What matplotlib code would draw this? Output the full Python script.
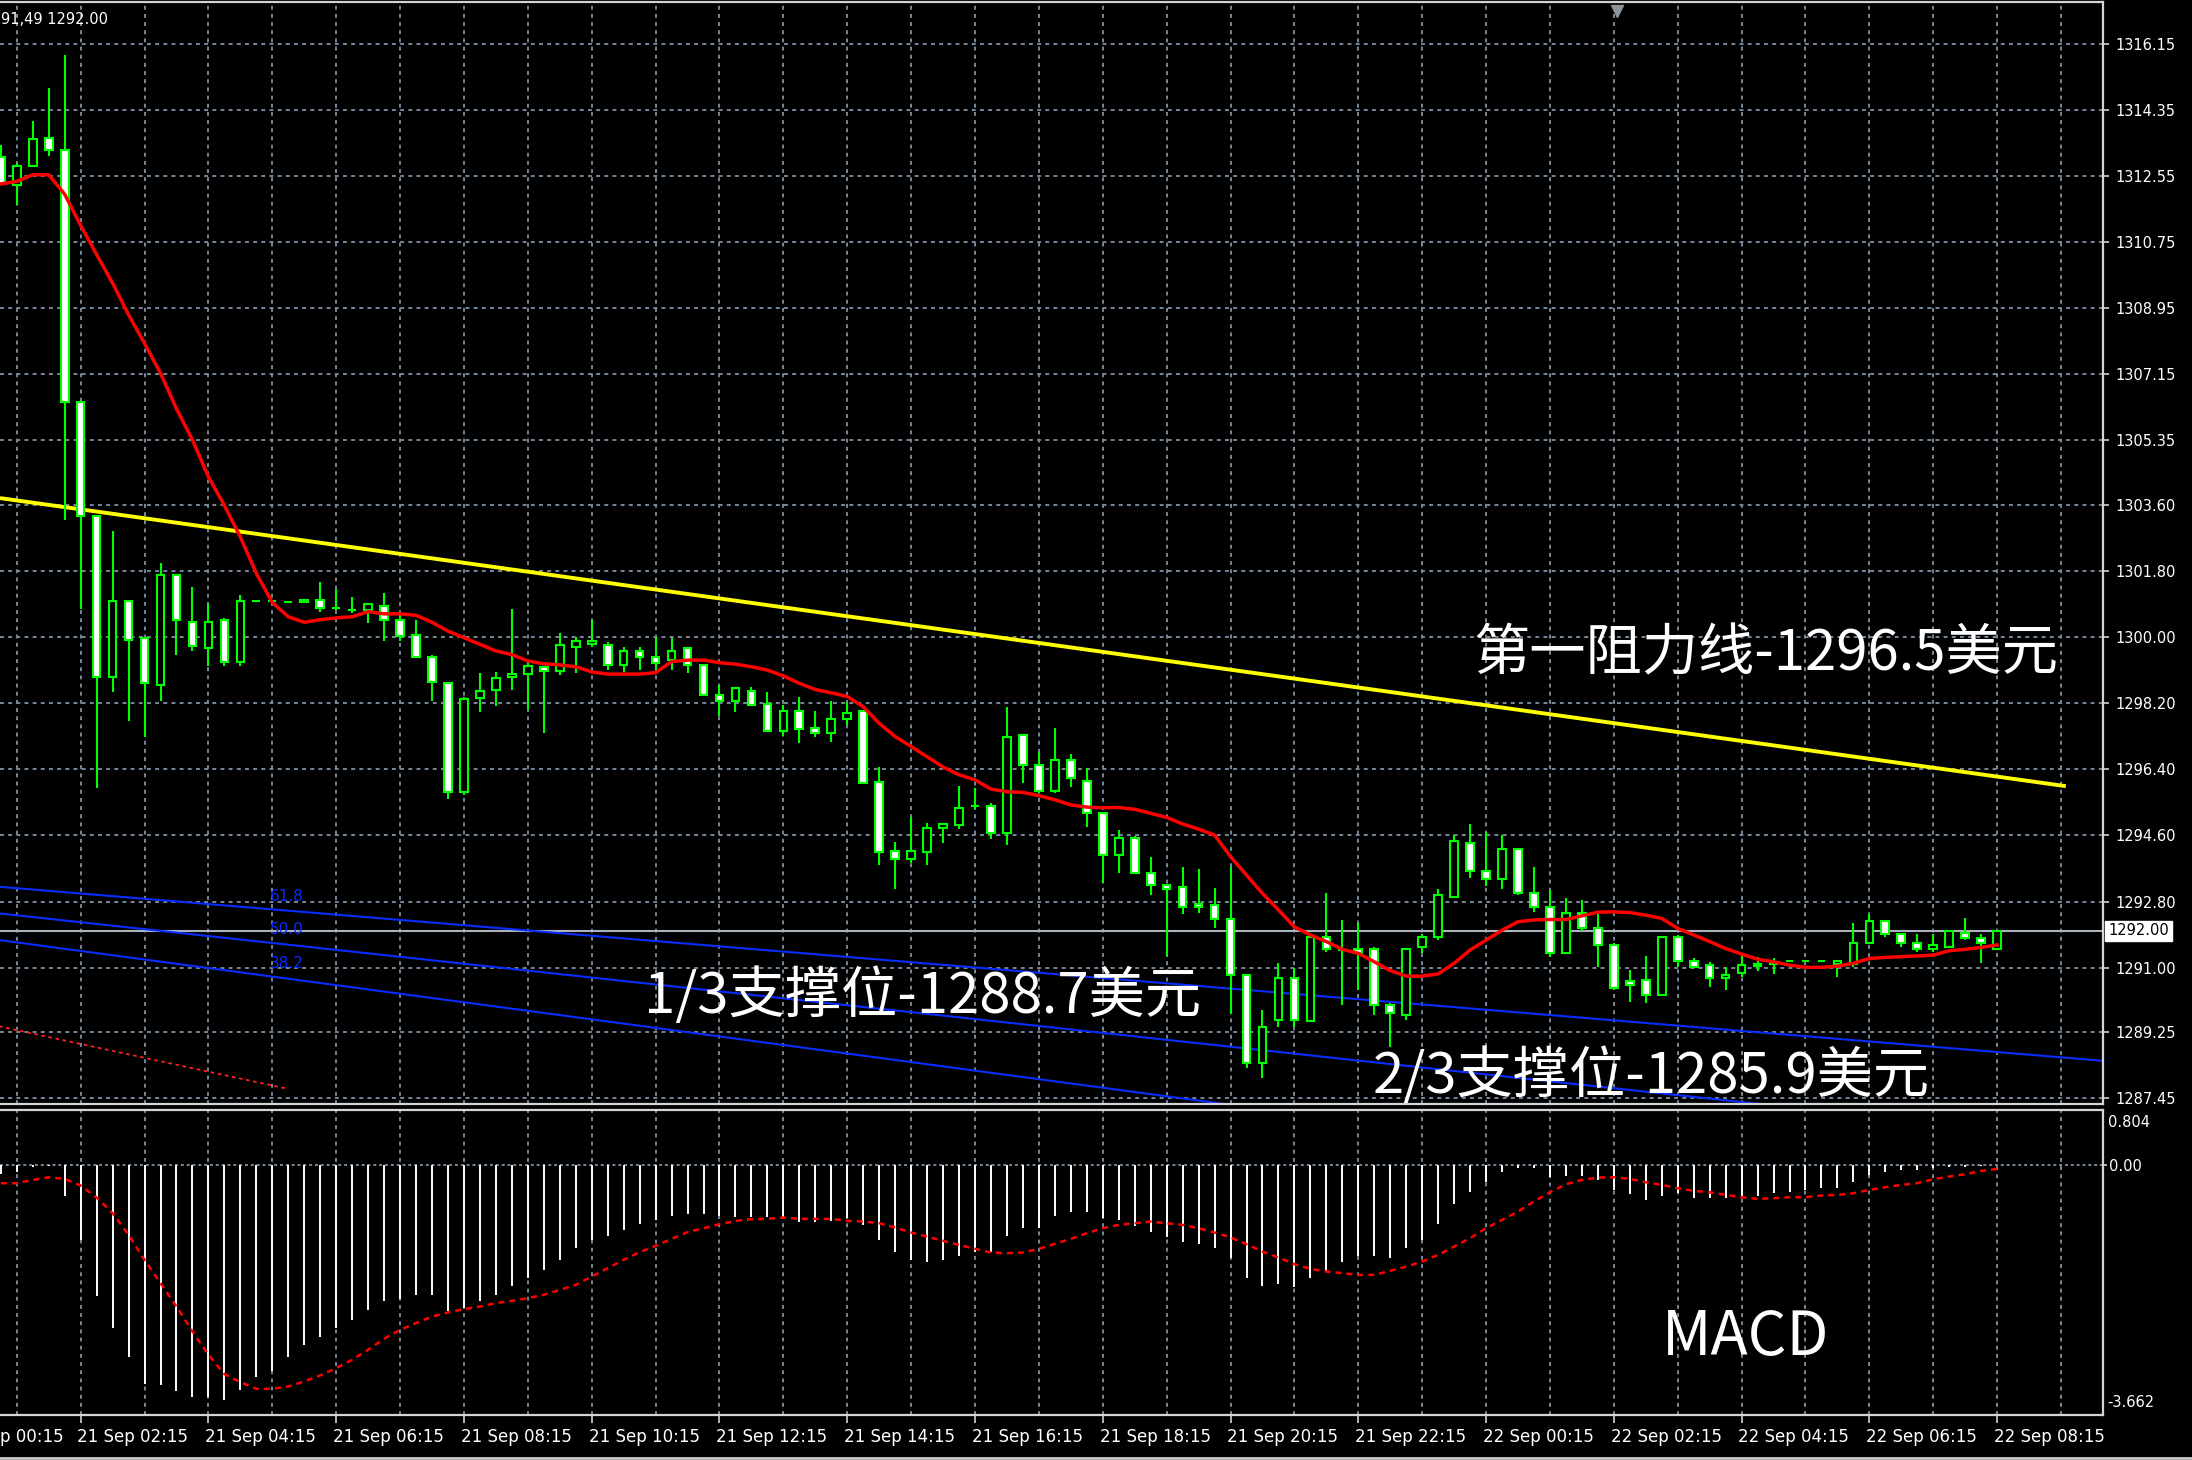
import matplotlib
matplotlib.use("Agg")
import matplotlib.pyplot as plt
import matplotlib.transforms as mtransforms
from matplotlib.lines import Line2D

# ---------------------------------------------------------------
# Data (bar 0 = 21 Sep 01:00)
# ---------------------------------------------------------------
OPEN = [1313.05, 1312.31, 1312.83, 1313.59, 1313.26, 1306.40, 1303.29, 1298.92, 1300.97, 1299.98,
        1298.70, 1301.68, 1300.40, 1299.69, 1300.47, 1299.31, 1300.97, 1300.97, 1300.94, 1300.96,
        1301.02, 1300.80, 1300.73, 1300.73, 1300.83, 1300.47, 1300.05, 1299.45, 1298.74, 1295.79,
        1298.35, 1298.55, 1298.91, 1299.00, 1299.19, 1299.08, 1299.73, 1299.82, 1299.79, 1299.24,
        1299.63, 1299.46, 1299.37, 1299.69, 1299.25, 1298.42, 1298.26, 1298.54, 1298.18, 1297.44,
        1297.99, 1297.51, 1297.38, 1297.76, 1297.99, 1296.04, 1294.18, 1293.95, 1294.16, 1294.80,
        1294.89, 1295.39, 1295.40, 1294.66, 1297.33, 1296.52, 1295.82, 1296.64, 1296.08, 1295.22,
        1294.07, 1294.52, 1293.59, 1293.25, 1293.20, 1292.73, 1292.70, 1292.32, 1290.80, 1288.41,
        1289.57, 1290.71, 1289.55, 1291.84, 1291.48, 1291.52, 1291.52, 1289.98, 1289.71, 1291.55,
        1291.84, 1292.93, 1294.40, 1293.64, 1293.41, 1294.23, 1293.04, 1292.66, 1291.41, 1292.50,
        1292.07, 1291.62, 1290.64, 1290.66, 1290.25, 1291.84, 1291.18, 1291.07, 1290.71, 1290.86,
        1291.04, 1291.10, 1291.18, 1291.18, 1291.18, 1291.10, 1291.10, 1291.68, 1292.28, 1291.91,
        1291.68, 1291.52, 1291.57, 1291.95, 1291.80, 1291.50]
HIGH = [1313.40, 1312.90, 1314.04, 1314.93, 1315.85, 1306.40, 1303.29, 1302.89, 1300.97, 1299.98,
        1302.01, 1301.68, 1301.37, 1300.90, 1300.52, 1301.13, 1300.97, 1300.97, 1300.94, 1301.02,
        1301.51, 1301.30, 1301.09, 1300.90, 1301.19, 1300.60, 1300.47, 1299.52, 1298.74, 1298.38,
        1299.02, 1299.06, 1300.76, 1299.30, 1299.20, 1300.12, 1299.99, 1300.46, 1299.85, 1299.73,
        1299.73, 1300.00, 1299.96, 1299.73, 1299.25, 1298.69, 1298.65, 1298.65, 1298.49, 1298.15,
        1298.38, 1297.99, 1298.27, 1298.24, 1297.99, 1296.47, 1294.41, 1295.11, 1294.95, 1294.91,
        1295.95, 1295.90, 1295.49, 1298.10, 1297.33, 1296.86, 1297.51, 1296.81, 1296.43, 1295.22,
        1294.75, 1294.58, 1294.02, 1293.25, 1293.75, 1293.68, 1293.16, 1293.75, 1290.80, 1289.85,
        1291.13, 1290.98, 1291.84, 1293.04, 1292.30, 1292.22, 1291.57, 1290.03, 1291.52, 1291.91,
        1293.13, 1294.61, 1294.91, 1294.70, 1294.61, 1294.25, 1293.75, 1293.11, 1292.89, 1292.84,
        1292.46, 1291.66, 1290.93, 1291.32, 1291.86, 1291.89, 1291.25, 1291.16, 1291.03, 1291.34,
        1291.30, 1291.25, 1291.18, 1291.18, 1291.18, 1291.18, 1292.22, 1292.46, 1292.30, 1291.93,
        1291.91, 1291.91, 1292.01, 1292.34, 1291.93, 1292.01]
LOW = [1312.30, 1311.76, 1312.83, 1313.09, 1303.18, 1300.76, 1295.89, 1298.49, 1297.71, 1297.27,
       1298.27, 1299.52, 1299.62, 1299.21, 1299.21, 1299.21, 1300.97, 1300.97, 1300.94, 1300.95,
       1300.69, 1300.73, 1300.66, 1300.37, 1299.88, 1299.88, 1299.45, 1298.27, 1295.60, 1295.70,
       1297.95, 1298.12, 1298.55, 1298.02, 1297.38, 1298.96, 1299.01, 1299.73, 1299.10, 1299.05,
       1299.10, 1299.05, 1299.10, 1299.01, 1298.42, 1297.85, 1297.97, 1298.15, 1297.44, 1297.31,
       1297.11, 1297.27, 1297.15, 1297.61, 1296.02, 1293.80, 1293.14, 1293.85, 1293.80, 1294.39,
       1294.77, 1295.31, 1294.50, 1294.34, 1296.02, 1295.75, 1295.75, 1295.93, 1294.82, 1293.30,
       1293.57, 1293.57, 1292.98, 1291.32, 1292.46, 1292.50, 1292.07, 1289.75, 1288.26, 1288.01,
       1289.39, 1289.39, 1289.55, 1291.43, 1289.98, 1290.39, 1289.71, 1288.85, 1289.57, 1291.39,
       1291.75, 1292.93, 1293.43, 1293.22, 1293.13, 1292.98, 1292.52, 1291.30, 1291.39, 1292.01,
       1291.03, 1290.39, 1290.07, 1290.03, 1290.25, 1291.03, 1290.98, 1290.48, 1290.39, 1290.75,
       1290.92, 1290.84, 1291.18, 1291.18, 1291.18, 1290.75, 1291.03, 1291.66, 1291.84, 1291.57,
       1291.43, 1291.43, 1291.55, 1291.75, 1291.12, 1291.50]
CLOSE = [1312.33, 1312.83, 1313.54, 1313.26, 1306.40, 1303.29, 1298.92, 1300.97, 1299.92, 1298.74,
         1301.68, 1300.47, 1299.76, 1300.40, 1299.31, 1300.97, 1300.97, 1300.97, 1300.94, 1301.01,
         1300.80, 1300.80, 1300.73, 1300.90, 1300.47, 1300.02, 1299.45, 1298.78, 1295.79, 1298.31,
         1298.52, 1298.88, 1299.00, 1299.21, 1299.08, 1299.79, 1299.90, 1299.90, 1299.24, 1299.63,
         1299.46, 1299.30, 1299.63, 1299.24, 1298.42, 1298.26, 1298.60, 1298.15, 1297.44, 1297.99,
         1297.49, 1297.38, 1297.77, 1297.94, 1296.02, 1294.16, 1293.95, 1294.18, 1294.80, 1294.91,
         1295.34, 1295.39, 1294.66, 1297.29, 1296.52, 1295.82, 1296.64, 1296.16, 1295.22, 1294.08,
         1294.52, 1293.59, 1293.25, 1293.13, 1292.66, 1292.64, 1292.32, 1290.80, 1288.41, 1289.39,
         1290.71, 1289.57, 1291.84, 1291.52, 1291.48, 1291.39, 1289.98, 1289.77, 1291.52, 1291.84,
         1292.98, 1294.46, 1293.64, 1293.41, 1294.23, 1293.04, 1292.66, 1291.41, 1292.50, 1292.07,
         1291.62, 1290.46, 1290.53, 1290.25, 1291.84, 1291.18, 1291.03, 1290.71, 1290.80, 1291.07,
         1291.10, 1291.16, 1291.18, 1291.18, 1291.18, 1291.18, 1291.68, 1292.28, 1291.91, 1291.68,
         1291.52, 1291.62, 1292.01, 1291.80, 1291.66, 1292.01]
MA = [1312.33, 1312.40, 1312.58, 1312.58, 1312.05, 1311.20, 1310.41, 1309.63, 1308.77, 1307.99,
      1307.18, 1306.21, 1305.36, 1304.36, 1303.58, 1302.72, 1301.73, 1300.94, 1300.55, 1300.40,
      1300.47, 1300.52, 1300.55, 1300.69, 1300.63, 1300.63, 1300.59, 1300.40, 1300.16, 1299.98,
      1299.80, 1299.62, 1299.52, 1299.35, 1299.27, 1299.24, 1299.19, 1299.05, 1298.99, 1298.99,
      1298.99, 1299.03, 1299.33, 1299.37, 1299.37, 1299.30, 1299.26, 1299.19, 1299.10, 1298.94,
      1298.74, 1298.57, 1298.48, 1298.38, 1298.10, 1297.65, 1297.29, 1297.02, 1296.74, 1296.46,
      1296.25, 1296.11, 1295.86, 1295.79, 1295.77, 1295.68, 1295.57, 1295.43, 1295.37, 1295.35,
      1295.36, 1295.31, 1295.20, 1295.09, 1294.91, 1294.77, 1294.61, 1294.02, 1293.52, 1293.02,
      1292.57, 1292.11, 1291.89, 1291.71, 1291.50, 1291.39, 1291.16, 1290.92, 1290.77, 1290.77,
      1290.83, 1291.12, 1291.48, 1291.75, 1292.02, 1292.25, 1292.30, 1292.31, 1292.31, 1292.41,
      1292.51, 1292.52, 1292.50, 1292.43, 1292.34, 1292.07, 1291.89, 1291.71, 1291.52, 1291.37,
      1291.23, 1291.16, 1291.07, 1291.01, 1291.01, 1291.04, 1291.12, 1291.25, 1291.28, 1291.30,
      1291.32, 1291.34, 1291.46, 1291.50, 1291.55, 1291.62]
MACD_MAIN = [-0.137, -0.098, -0.024, -0.010, -0.454, -1.098, -1.917, -2.385, -2.820, -3.205,
             -3.229, -3.317, -3.405, -3.405, -3.439, -3.293, -3.112, -3.024, -2.820, -2.644,
             -2.527, -2.390, -2.268, -2.122, -2.000, -1.966, -1.912, -1.912, -2.146, -2.098,
             -2.000, -1.912, -1.771, -1.659, -1.537, -1.390, -1.220, -1.098, -1.034, -0.951,
             -0.868, -0.805, -0.741, -0.722, -0.722, -0.741, -0.756, -0.756, -0.756, -0.790,
             -0.839, -0.839, -0.820, -0.771, -0.878, -1.098, -1.278, -1.390, -1.415, -1.390,
             -1.327, -1.268, -1.278, -1.034, -0.917, -0.917, -0.741, -0.693, -0.683, -0.771,
             -0.805, -0.888, -0.976, -1.049, -1.122, -1.156, -1.210, -1.366, -1.659, -1.766,
             -1.737, -1.795, -1.649, -1.551, -1.415, -1.327, -1.327, -1.356, -1.210, -1.098,
             -0.868, -0.576, -0.390, -0.244, -0.098, -0.049, -0.039, -0.171, -0.156, -0.156,
             -0.220, -0.366, -0.424, -0.512, -0.449, -0.415, -0.478, -0.488, -0.488, -0.463,
             -0.449, -0.415, -0.390, -0.366, -0.332, -0.332, -0.244, -0.146, -0.098, -0.073,
             -0.073, -0.049, -0.024, -0.024, -0.010, -0.005]
MACD_SIGNAL = [-0.268, -0.268, -0.220, -0.180, -0.205, -0.302, -0.478, -0.707, -1.024, -1.390,
               -1.732, -2.073, -2.439, -2.780, -3.063, -3.180, -3.278, -3.278, -3.244, -3.171,
               -3.083, -2.976, -2.854, -2.707, -2.546, -2.415, -2.317, -2.220, -2.161, -2.112,
               -2.073, -2.024, -1.990, -1.951, -1.902, -1.829, -1.756, -1.634, -1.512, -1.390,
               -1.278, -1.185, -1.083, -0.985, -0.927, -0.868, -0.820, -0.795, -0.790, -0.771,
               -0.790, -0.790, -0.790, -0.820, -0.829, -0.854, -0.917, -0.990, -1.049, -1.112,
               -1.171, -1.229, -1.283, -1.293, -1.283, -1.229, -1.156, -1.083, -1.000, -0.927,
               -0.878, -0.854, -0.829, -0.854, -0.878, -0.927, -0.990, -1.063, -1.161, -1.268,
               -1.356, -1.454, -1.522, -1.561, -1.585, -1.610, -1.610, -1.551, -1.488, -1.415,
               -1.317, -1.195, -1.073, -0.927, -0.805, -0.683, -0.537, -0.400, -0.283, -0.220,
               -0.185, -0.180, -0.205, -0.254, -0.293, -0.341, -0.380, -0.400, -0.439, -0.473,
               -0.498, -0.488, -0.473, -0.473, -0.449, -0.439, -0.415, -0.366, -0.327, -0.293,
               -0.268, -0.210, -0.171, -0.137, -0.088, -0.059]

PRICE_TICKS = ["1316.15", "1314.35", "1312.55", "1310.75", "1308.95", "1307.15", "1305.35",
               "1303.60", "1301.80", "1300.00", "1298.20", "1296.40", "1294.60", "1292.80",
               "1291.00", "1289.25", "1287.45"]
# first label is only partly visible at the left edge of the screenshot
TIME_LABELS = ["p 00:15", "21 Sep 02:15", "21 Sep 04:15", "21 Sep 06:15", "21 Sep 08:15",
               "21 Sep 10:15", "21 Sep 12:15", "21 Sep 14:15", "21 Sep 16:15", "21 Sep 18:15",
               "21 Sep 20:15", "21 Sep 22:15", "22 Sep 00:15", "22 Sep 02:15", "22 Sep 04:15",
               "22 Sep 06:15", "22 Sep 08:15"]
TIME_LABEL_BARS = [-3, 5, 13, 21, 29, 37, 45, 53, 61, 69, 77, 85, 93, 101, 109, 117, 125]

# resistance trend line (bar, price)
TREND_X = [-0.05, 129.3]
TREND_Y = [1303.78, 1295.94]
# fibonacci fan anchors (bar, price)
FAN_ORIGIN = (-65.4, 1295.55)
FAN_END = (18.0, 1287.70)
FAN_LEVELS = [0.382, 0.5, 0.618]
FAN_TEXT = ["38.2", "50.0", "61.8"]
BID = 1292.00

GRID = '#778899'
GREEN = '#00ff00'
FRAME = '#d4d4d4'
CJK = ['Noto Sans CJK SC', 'DejaVu Sans']

plt.rcParams['font.family'] = ['DejaVu Sans']
fig = plt.figure(figsize=(21.92, 14.60), dpi=100, facecolor='black')
ax = fig.add_axes([0.0, 0.24384, 0.9594, 0.7550])
axm = fig.add_axes([0.0, 0.03082, 0.9594, 0.20891])

XMIN, XMAX = -0.05, 131.63
for a in (ax, axm):
    a.set_facecolor('black')
    a.set_xlim(XMIN, XMAX)
    a.spines['left'].set_visible(False)
    for s in ('top', 'right', 'bottom'):
        a.spines[s].set_color(FRAME)
        a.spines[s].set_linewidth(1.6)
    for b in range(1, 131, 4):
        a.axvline(b, color=GRID, lw=1.4, ls=(0, (2, 2.2)), zorder=0.5)

# ---------------- main price panel ----------------
ax.set_ylim(1287.29, 1317.29)
tick_vals = [float(t) for t in PRICE_TICKS]
for v in tick_vals:
    ax.axhline(v, color=GRID, lw=1.4, ls=(0, (2, 2.2)), zorder=0.5)
ax.yaxis.tick_right()
ax.set_yticks(tick_vals)
ax.set_yticklabels(PRICE_TICKS)
ax.tick_params(axis='y', colors=FRAME, labelcolor='white', length=4, width=1.2,
               pad=5, labelsize=10.5)
ax.set_xticks([])

# bid line
ax.axhline(BID, color='#aab3bd', lw=1.5, zorder=1)
ax.text(1.0025, BID, "1292.00", transform=mtransforms.blended_transform_factory(ax.transAxes, ax.transData),
        ha='left', va='center', fontsize=10.5, color='black', zorder=10, clip_on=False,
        bbox=dict(boxstyle='square,pad=0.2', fc='white', ec='white'))

# yellow resistance line
ax.plot(TREND_X, TREND_Y, color='#ffff00', lw=2.8, zorder=2, solid_capstyle='butt')

# fibonacci fan
ox, oy = FAN_ORIGIN
ex, ey = FAN_END
ax.plot([ox, ex], [oy, ey], color='#ff2020', lw=1.3, ls=(0, (2, 2)), zorder=2)
for lvl, txt in zip(FAN_LEVELS, FAN_TEXT):
    ty = ey + (oy - ey) * lvl
    ax.axline((ox, oy), (ex, ty), color='#0a2cff', lw=1.5, zorder=2)
    lx = 16.85
    ly = oy + (ty - oy) * (lx - ox) / (ex - ox)
    ax.annotate(txt, xy=(lx, ly), xytext=(0, 13), textcoords='offset pixels',
                ha='left', va='center', fontsize=11, color='#0a2cff', zorder=3)

# candles
bars = range(len(OPEN))
ax.vlines(list(bars), LOW, HIGH, color=GREEN, lw=1.5, zorder=3)
bottoms = [min(o, c) for o, c in zip(OPEN, CLOSE)]
heights = [abs(c - o) for o, c in zip(OPEN, CLOSE)]
fills = ['white' if c < o else 'black' for o, c in zip(OPEN, CLOSE)]
ax.bar(list(bars), heights, bottom=bottoms, width=0.48, color=fills, edgecolor=GREEN,
       linewidth=1.5, zorder=4)

# moving average
ax.plot(list(bars), MA, color='#ff0000', lw=2.5, zorder=5)

# chart-shift marker
ax.plot([101.2], [1317.05], marker='v', color='#8a929a', ms=8, zorder=6, clip_on=False)

# annotations
ax.text(92.2, 1299.53, "第一阻力线-1296.5美元", family=CJK, fontsize=40.5, color='white',
        ha='left', va='center', zorder=8)
ax.text(40.3, 1290.20, "1/3支撑位-1288.7美元", family=CJK, fontsize=40.5, color='white',
        ha='left', va='center', zorder=8)
ax.text(85.9, 1288.02, "2/3支撑位-1285.9美元", family=CJK, fontsize=40.5, color='white',
        ha='left', va='center', zorder=8)

# ---------------- MACD panel ----------------
axm.set_ylim(-3.662, 0.804)
axm.axhline(0, color=GRID, lw=1.4, ls=(0, (1.5, 1.5)), zorder=0.6)
axm.vlines(list(bars), 0, MACD_MAIN, color='white', lw=1.4, zorder=2)
axm.plot(list(bars), MACD_SIGNAL, color='#ff0000', lw=1.8, ls=(0, (2.4, 2.0)), zorder=3)
axm.yaxis.tick_right()
axm.set_yticks([0])
axm.set_yticklabels(["0.00"])
axm.tick_params(axis='y', colors=FRAME, labelcolor='white', length=3, width=1.2,
                pad=1, labelsize=10.5)
axm.annotate("0.804", xy=(1, 1), xycoords='axes fraction', xytext=(5, -13),
             textcoords='offset pixels', ha='left', va='center', fontsize=10.5, color='white')
axm.annotate("-3.662", xy=(1, 0), xycoords='axes fraction', xytext=(4, 13),
             textcoords='offset pixels', ha='left', va='center', fontsize=10.5, color='white')
axm.text(104.0, -2.534, "MACD", family=CJK, fontsize=44, color='white', ha='left', va='center')

# time axis
visible = [b for b in TIME_LABEL_BARS if XMIN <= b <= XMAX]
axm.set_xticks(visible)
axm.set_xticklabels([''] * len(visible))
axm.tick_params(axis='x', colors=FRAME, length=6, width=1.2, direction='out')
xtr = mtransforms.blended_transform_factory(axm.transData, axm.transAxes)
for b, lab in zip(TIME_LABEL_BARS, TIME_LABELS):
    if b < XMIN:
        axm.text(0.0, -0.0885, lab, transform=axm.transAxes, ha='left', va='baseline',
                 fontsize=12, color='white', clip_on=False)
    else:
        axm.text(b - 0.2, -0.0885, lab, transform=xtr, ha='left', va='baseline',
                 fontsize=12, color='white', clip_on=False)

# OHLC readout top-left (only its tail shows in the screenshot)
fig.text(1 / 2192, 1 - 24 / 1460, "91,49 1292.00", ha='left', va='baseline',
         fontsize=10.5, color='white')
fig.add_artist(Line2D([0, 1], [0.0012, 0.0012], color='#c8c8c8', lw=2))

fig.savefig("out.png", dpi=100, facecolor='black')
